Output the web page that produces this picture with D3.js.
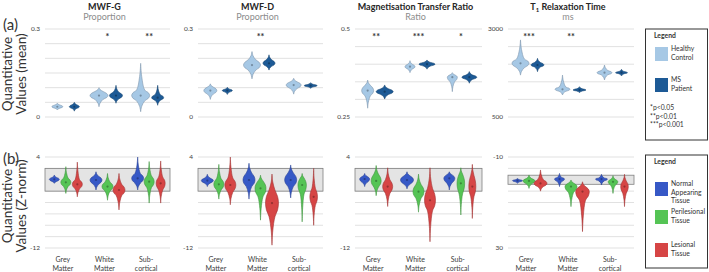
<!DOCTYPE html>
<html>
<head>
<meta charset="utf-8">
<script src="https://cdn.jsdelivr.net/npm/d3@7/dist/d3.min.js"></script>
<style>
  body { margin: 0; background: #fff; }
  svg { display: block; font-family: Lato, "Open Sans", sans-serif; }
</style>
</head>
<body>
<div id="chart"></div>
<script>
// categories
const groups = [["Grey", "Matter"], ["White", "Matter"], ["Sub-", "cortical"]];
const topTitles = ["MWF-G", "MWF-D", "Magnetisation Transfer Ratio", "T1 Relaxation Time"];
const topUnits = ["Proportion", "Proportion", "Ratio", "ms"];

// axes
const topDomains = [[0, 0.3], [0, 0.3], [0.25, 0.5], [500, 3000]];
const topTicks = [
  [0, 0.05, 0.1, 0.15, 0.2, 0.25, 0.3],
  [0, 0.05, 0.1, 0.15, 0.2, 0.25, 0.3],
  [0.25, 0.3, 0.35, 0.4, 0.45, 0.5],
  [500, 1000, 1500, 2000, 2500, 3000]
];
const topTickLabels = [["0", "0.3"], ["0", "0.3"], ["0.25", "0.5"], ["500", "3000"]];
const botDomains = [[4, -12], [4, -12], [4, -12], [-10, 30]];
const botTicks = [
  [4, 2, 0, -2, -4, -6, -8, -10, -12],
  [4, 2, 0, -2, -4, -6, -8, -10, -12],
  [4, 2, 0, -2, -4, -6, -8, -10, -12],
  [-10, -5, 0, 5, 10, 15, 20, 25, 30]
];
const botTickLabels = [["4", "-12"], ["4", "-12"], ["4", "-12"], ["-10", "30"]];
const normalBand = [-2, 2];

// significance per group
const topStars = [["", "*", "**"], ["", "**", ""], ["**", "***", "*"], ["***", "**", ""]];

// violins: [min, lower body, centre, upper body, max, relative width]
const mwfgHC = [[0.024, 0.03, 0.035, 0.041, 0.047, 0.55], [0.035, 0.06, 0.073, 0.087, 0.10, 0.9], [0.018, 0.055, 0.073, 0.092, 0.183, 0.9]];
const mwfgMS = [[0.02, 0.029, 0.035, 0.042, 0.05, 0.5], [0.047, 0.062, 0.073, 0.084, 0.108, 0.65], [0.04, 0.057, 0.066, 0.076, 0.108, 0.6]];
const mwfdHC = [[0.06, 0.078, 0.09, 0.102, 0.113, 0.65], [0.13, 0.16, 0.177, 0.195, 0.223, 0.85], [0.078, 0.097, 0.109, 0.12, 0.132, 0.75]];
const mwfdMS = [[0.077, 0.085, 0.09, 0.095, 0.101, 0.5], [0.16, 0.173, 0.183, 0.195, 0.212, 0.6], [0.098, 0.103, 0.107, 0.111, 0.117, 0.65]];
const mtrHC = [[0.275, 0.31, 0.325, 0.34, 0.355, 0.6], [0.376, 0.386, 0.393, 0.4, 0.41, 0.5], [0.322, 0.35, 0.363, 0.37, 0.376, 0.5]];
const mtrMS = [[0.301, 0.314, 0.322, 0.33, 0.341, 0.85], [0.386, 0.395, 0.40, 0.405, 0.412, 0.8], [0.346, 0.357, 0.363, 0.369, 0.379, 0.75]];
const t1HC = [[1690, 1900, 2025, 2150, 2690, 0.85], [1125, 1230, 1287, 1350, 1693, 0.75], [1551, 1700, 1758, 1820, 1977, 0.75]];
const t1MS = [[1787, 1920, 1977, 2050, 2167, 0.65], [1190, 1240, 1267, 1300, 1361, 0.65], [1665, 1730, 1758, 1790, 1855, 0.6]];

// z-norm violins per group: [normal appearing, perilesional, lesional]
const zMWFG = [
  [[-0.63, -0.3, 0.08, 0.4, 0.84, 0.5], [-2.4, -1.2, -0.45, 0.3, 2.3, 0.5], [-3, -1.6, -0.8, 0, 3.1, 0.5]],
  [[-1.8, -0.8, -0.04, 0.6, 1.4, 0.6], [-3.6, -2, -1.2, -0.4, 1.1, 0.55], [-5.3, -2.8, -1.8, -0.8, 1.1, 0.6]],
  [[-1.8, -0.6, 0.25, 1.1, 4, 0.6], [-4.1, -1.4, -0.34, 0.7, 3.2, 0.5], [-4.1, -1.8, -0.63, 0.5, 3.3, 0.45]]
];
const zMWFD = [
  [[-1.2, -0.6, -0.15, 0.3, 0.96, 0.6], [-3.4, -1.8, -0.8, 0.2, 2.7, 0.5], [-4.4, -2.2, -0.92, 0.3, 4, 0.55]],
  [[-3.4, -1.2, -0.04, 1.2, 2.9, 0.6], [-7.1, -3, -1.5, -0.2, 0.8, 0.55], [-11.5, -6.5, -4.1, -1.8, 1, 0.65]],
  [[-3.2, -1.2, -0.04, 1.2, 2.6, 0.6], [-7.4, -2.5, -0.92, 0.3, 1.1, 0.42], [-8, -4.5, -3, -1.5, 2, 0.38]]
];
const zMTR = [
  [[-1.2, -0.5, 0.13, 0.6, 1.1, 0.5], [-2.8, -1.3, -0.2, 1, 2.5, 0.5], [-4.7, -2.4, -1.2, 0, 2.1, 0.5]],
  [[-1.6, -0.8, -0.04, 0.7, 1.4, 0.65], [-5.7, -3.3, -2.1, -0.8, 1, 0.55], [-10.9, -5.5, -3.6, -1.5, 2.1, 0.55]],
  [[-1.8, -0.6, 0.25, 0.9, 1.4, 0.55], [-6.2, -2.5, -0.63, 1, 2.1, 0.38], [-6.8, -3, -1.2, 0.8, 2.7, 0.35]]
];
const zT1 = [
  [[-0.6, 0, 0.4, 0.9, 1.6, 0.5], [-2.1, -0.5, 0.5, 1.8, 3.8, 0.6], [-4.3, 0, 1.6, 3, 5, 0.65]],
  [[-2.8, -1, -0.3, 0.8, 3, 0.5], [0.1, 1.5, 3, 5.5, 11.8, 0.6], [0.9, 3, 5.2, 9, 22.8, 0.68]],
  [[-2.4, -0.8, -0.3, 0.5, 2.3, 0.6], [-1.8, -0.2, 0.9, 2.5, 6, 0.48], [-2.4, 0.5, 3, 6, 11.8, 0.38]]
];

const topHC = [mwfgHC, mwfdHC, mtrHC, t1HC];
const topMS = [mwfgMS, mwfdMS, mtrMS, t1MS];
const botData = [zMWFG, zMWFD, zMTR, zT1];

// colours
const hcColor = "#a6c8e5";
const msColor = "#1d5a96";
const tissueColors = ["#3658c6", "#55c455", "#d64545"];
const gridColor = "#d9d9d9";

const width = 709, height = 272;
const panelX = [[45, 170], [198, 323], [355, 482], [508, 634]];
const topY = [117, 29];
const botY = [157, 248];

const svg = d3.select("#chart").append("svg")
  .attr("width", width).attr("height", height);

const halfWidth = d3.scaleLinear().domain([0, 1]).range([0, 10]);

function violin(v, cx, y) {
  const [lo, q1, mid, q3, hi, dens] = v;
  const prof = [
    [lo, 0], [(lo + q1) / 2, 0.12], [q1, 0.45], [(q1 + mid) / 2, 0.86], [mid, 1],
    [(mid + q3) / 2, 0.86], [q3, 0.45], [(q3 + hi) / 2, 0.12], [hi, 0]
  ];
  const hw = halfWidth(dens);
  return d3.area()
    .y(d => y(d[0]))
    .x0(d => cx - hw * d[1])
    .x1(d => cx + hw * d[1])
    .curve(d3.curveCatmullRom)(prof);
}

function drawViolin(g, v, cx, y, color) {
  g.append("path")
    .attr("d", violin(v, cx, y))
    .attr("fill", color)
    .attr("stroke", d3.color(color).darker(0.8))
    .attr("stroke-width", 0.6);
  // centre marker
  g.append("circle")
    .attr("cx", cx).attr("cy", y(v[2]))
    .attr("r", 1.1)
    .attr("fill", d3.color(color).darker(1.6))
    .attr("opacity", 0.7);
}

// panel label and y titles
svg.append("text").attr("x", 3).attr("y", 30).attr("font-size", 15).attr("fill", "#333").text("(a)");
svg.append("text").attr("x", 3).attr("y", 164).attr("font-size", 15).attr("fill", "#333").text("(b)");

function yTitle(cy, second) {
  const t = svg.append("text")
    .attr("transform", `translate(0, ${cy}) rotate(-90)`)
    .attr("text-anchor", "middle")
    .attr("font-size", 13.5)
    .attr("fill", "#333");
  t.append("tspan").attr("x", 0).attr("y", 12).text("Quantitative");
  t.append("tspan").attr("x", 0).attr("y", 26).text(second);
}
yTitle(74, "Values (mean)");
yTitle(206, "Values (Z-norm)");

panelX.forEach((px, p) => {
  const x = d3.scaleBand().domain(groups.map((d, i) => i)).range(px);
  const cx = i => x(i) + x.bandwidth() / 2;
  const mid = (px[0] + px[1]) / 2 - 3;

  // titles
  const title = svg.append("text")
    .attr("x", mid).attr("y", 10)
    .attr("text-anchor", "middle")
    .attr("font-size", 9).attr("font-weight", 700).attr("fill", "#262626");
  if (p === 3) {
    title.append("tspan").text("T");
    title.append("tspan").attr("font-size", 6).attr("dy", 2).text("1");
    title.append("tspan").attr("dy", -2).text(" Relaxation Time");
  } else {
    title.text(topTitles[p]);
  }
  svg.append("text")
    .attr("x", mid).attr("y", 20)
    .attr("text-anchor", "middle")
    .attr("font-size", 9).attr("fill", "#8c8c8c")
    .text(topUnits[p]);

  // ----- top panel -----
  const yT = d3.scaleLinear().domain(topDomains[p]).range(topY);
  const gT = svg.append("g");
  gT.selectAll("line.grid").data(topTicks[p]).join("line")
    .attr("x1", px[0]).attr("x2", px[1])
    .attr("y1", d => yT(d)).attr("y2", d => yT(d))
    .attr("stroke", gridColor).attr("stroke-width", 0.8);
  gT.selectAll("text.tick").data(topDomains[p]).join("text")
    .attr("x", px[0] - 5).attr("y", d => yT(d) + 2.3)
    .attr("text-anchor", "end").attr("font-size", 6.5).attr("fill", "#404040")
    .text((d, i) => topTickLabels[p][i]);

  groups.forEach((gname, i) => {
    drawViolin(gT, topHC[p][i], cx(i) - 8.5, yT, hcColor);
    drawViolin(gT, topMS[p][i], cx(i) + 8.5, yT, msColor);
    gT.append("text")
      .attr("x", cx(i)).attr("y", 40)
      .attr("text-anchor", "middle").attr("font-size", 9).attr("font-weight", 700)
      .attr("fill", "#333")
      .text(topStars[p][i]);
  });

  // ----- bottom panel -----
  const yB = d3.scaleLinear().domain(botDomains[p]).range(botY);
  const gB = svg.append("g");
  gB.selectAll("line.grid").data(botTicks[p]).join("line")
    .attr("x1", px[0]).attr("x2", px[1])
    .attr("y1", d => yB(d)).attr("y2", d => yB(d))
    .attr("stroke", gridColor).attr("stroke-width", 0.8);
  gB.append("rect")
    .attr("x", px[0]).attr("width", px[1] - px[0])
    .attr("y", Math.min(yB(normalBand[0]), yB(normalBand[1])))
    .attr("height", Math.abs(yB(normalBand[0]) - yB(normalBand[1])))
    .attr("fill", "#e4e4e4").attr("stroke", "#808080").attr("stroke-width", 0.8);
  gB.selectAll("text.tick").data(botDomains[p]).join("text")
    .attr("x", px[0] - 5).attr("y", d => yB(d) + 2.3)
    .attr("text-anchor", "end").attr("font-size", 6.5).attr("fill", "#404040")
    .text((d, i) => botTickLabels[p][i]);

  groups.forEach((gname, i) => {
    botData[p][i].forEach((v, k) => {
      drawViolin(gB, v, cx(i) + (k - 1) * 11.5, yB, tissueColors[k]);
    });
    const lab = gB.append("text")
      .attr("text-anchor", "middle").attr("font-size", 7).attr("fill", "#404040");
    lab.append("tspan").attr("x", cx(i) - 3).attr("y", 262).text(gname[0]);
    lab.append("tspan").attr("x", cx(i) - 3).attr("y", 271).text(gname[1]);
  });
});

// legends
function legendBox(y0, h, items, notes) {
  const g = svg.append("g");
  g.append("rect").attr("x", 645.5).attr("y", y0).attr("width", 62).attr("height", h)
    .attr("fill", "#fff").attr("stroke", "#333").attr("stroke-width", 1);
  g.append("text").attr("x", 654).attr("y", y0 + 9).attr("font-size", 6.8)
    .attr("font-weight", 700).attr("fill", "#333").text("Legend");
  items.forEach(it => {
    g.append("rect").attr("x", 655).attr("y", y0 + it.dy).attr("width", 13).attr("height", 14)
      .attr("fill", it.color);
    const t = g.append("text").attr("font-size", 6.8).attr("fill", "#333");
    it.lines.forEach((l, j) => {
      t.append("tspan").attr("x", 671).attr("y", y0 + it.dy + 4 + j * 8.5).text(l);
    });
  });
  (notes || []).forEach((n, j) => {
    g.append("text").attr("x", 650).attr("y", y0 + 81 + j * 8.5)
      .attr("font-size", 6.8).attr("fill", "#333").text(n);
  });
}
legendBox(29, 111, [
  { color: hcColor, lines: ["Healthy", "Control"], dy: 18 },
  { color: msColor, lines: ["MS", "Patient"], dy: 49 }
], ["*p<0.05", "**p<0.01", "***p<0.001"]);
legendBox(155, 113, [
  { color: tissueColors[0], lines: ["Normal", "Appearing", "Tissue"], dy: 27 },
  { color: tissueColors[1], lines: ["Perilesional", "Tissue"], dy: 55 },
  { color: tissueColors[2], lines: ["Lesional", "Tissue"], dy: 88 }
]);
</script>
</body>
</html>
